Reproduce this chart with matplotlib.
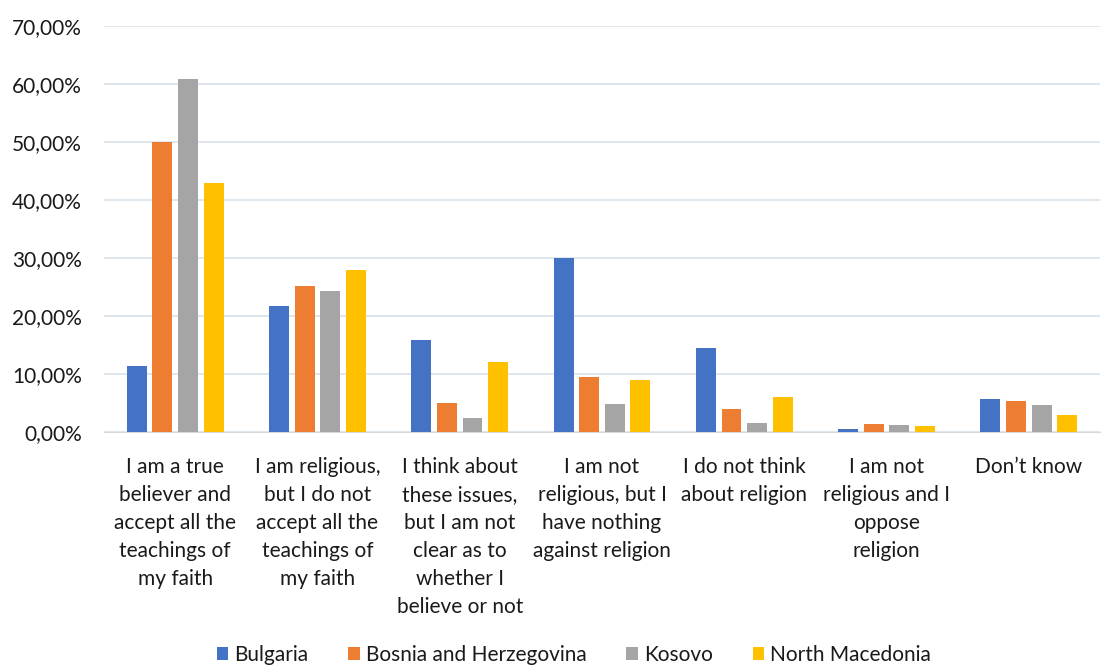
import numpy as np
import matplotlib.pyplot as plt
from matplotlib.ticker import FuncFormatter

plt.rcParams['font.family'] = ['Lato', 'DejaVu Sans']

categories = [
    "I am a true\nbeliever and\naccept all the\nteachings of\nmy faith",
    "I am religious,\nbut I do not\naccept all the\nteachings of\nmy faith",
    "I think about\nthese issues,\nbut I am not\nclear as to\nwhether I\nbelieve or not",
    "I am not\nreligious, but I\nhave nothing\nagainst religion",
    "I do not think\nabout religion",
    "I am not\nreligious and I\noppose\nreligion",
    "Don\u2019t know",
]
countries = ["Bulgaria", "Bosnia and Herzegovina", "Kosovo", "North Macedonia"]
bulgaria = [11.4, 21.7, 15.9, 30.0, 14.5, 0.5, 5.7]
bosnia = [50.0, 25.1, 5.0, 9.4, 3.9, 1.4, 5.3]
kosovo = [60.8, 24.3, 2.5, 4.8, 1.5, 1.2, 4.7]
macedonia = [42.9, 27.9, 12.1, 9.0, 6.0, 1.0, 3.0]
series = [bulgaria, bosnia, kosovo, macedonia]
colors = ["#4472C4", "#ED7D31", "#A5A5A5", "#FFC000"]

fig = plt.figure(figsize=(11.01, 6.66), dpi=100)
ax = fig.add_axes([104 / 1101, 1 - 432 / 666, 996 / 1101, 406 / 666])

x = np.arange(len(categories))
stride = 0.18
width = 0.14
for i, (vals, name, c) in enumerate(zip(series, countries, colors)):
    ax.bar(x + (i - 1.5) * stride, np.array(vals) / 100, width, color=c, label=name, zorder=3)

ax.set_xlim(-0.5, len(categories) - 0.5)
ax.set_ylim(0, 0.70)
ax.set_yticks(np.arange(0, 0.71, 0.10))
ax.yaxis.set_major_formatter(FuncFormatter(lambda v, p: f"{v * 100:.2f}%".replace(".", ",")))
ax.grid(axis="y", color="#D9E1EA", linewidth=1.2, zorder=0)
for s in ["top", "right", "left"]:
    ax.spines[s].set_visible(False)
ax.spines["bottom"].set_color("#D9D9D9")
ax.tick_params(axis="both", length=0, labelsize=15, colors="#1a1a1a")
ax.tick_params(axis="x", pad=18)
ax.tick_params(axis="y", pad=16)
ax.set_xticks(x)
ax.set_xticklabels(categories, linespacing=1.5, va="top")

fig.legend(loc="center", bbox_to_anchor=(574 / 1101, 1 - 655 / 666), ncol=4, frameon=False,
           fontsize=15, handlelength=0.55, handleheight=0.55, handletextpad=0.3, columnspacing=1.9,
           labelcolor="#1a1a1a")

fig.savefig("out.png", dpi=100)
